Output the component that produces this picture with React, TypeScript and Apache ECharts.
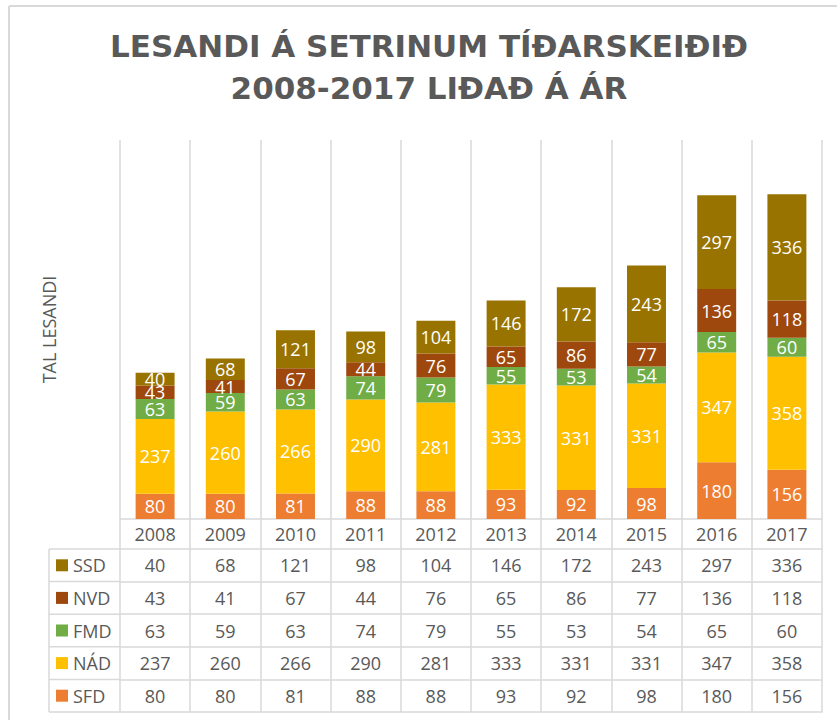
import React, { useEffect, useRef } from "react";
import * as echarts from "echarts";

const years = ["2008", "2009", "2010", "2011", "2012", "2013", "2014", "2015", "2016", "2017"];
const SFD = [80, 80, 81, 88, 88, 93, 92, 98, 180, 156];
const NAD = [237, 260, 266, 290, 281, 333, 331, 331, 347, 358];
const FMD = [63, 59, 63, 74, 79, 55, 53, 54, 65, 60];
const NVD = [43, 41, 67, 44, 76, 65, 86, 77, 136, 118];
const SSD = [40, 68, 121, 98, 104, 146, 172, 243, 297, 336];

const seriesNames = ["SFD", "NÁD", "FMD", "NVD", "SSD"];
const seriesData = [SFD, NAD, FMD, NVD, SSD];
const seriesColors = ["#ED7D31", "#FFC000", "#70AD47", "#9E480E", "#997300"];
// table rows, top to bottom
const tableOrder = [4, 3, 2, 1, 0];

const TITLE = "LESANDI Á SETRINUM TÍÐARSKEIÐIÐ\n2008-2017 LIÐAÐ Á ÁR";
const Y_NAME = "TAL LESANDI";

export default function App() {
  const ref = useRef<HTMLDivElement>(null);
  useEffect(() => {
    if (!ref.current) return;
    const chart = echarts.init(ref.current, null, { renderer: "svg" });
    const W = 837, H = 720;
    const gridLeft = 120, gridRight = 15, gridTop = 140, gridBottom = 201;
    const headerH = 30, rowH = 32.6;
    const baseY = H - gridBottom;
    const lineCol = "#D9D9D9";
    const txtCol = "#595959";
    const lw = 1.5;
    const font = "Open Sans";

    const rowAxes: any[] = tableOrder.map((si, k) => ({
      type: "category",
      gridIndex: 0,
      position: "bottom",
      offset: headerH + k * rowH,
      data: years,
      axisLine: { show: true, lineStyle: { color: lineCol, width: lw } },
      axisTick: { show: true, length: rowH, lineStyle: { color: lineCol, width: lw } },
      axisLabel: {
        show: true,
        interval: 0,
        margin: rowH / 2,
        verticalAlign: "middle",
        color: txtCol,
        fontSize: 18,
        fontFamily: font,
        formatter: (_v: string, idx: number) => String(seriesData[si][idx]),
      },
      splitLine: { show: false },
    }));

    const closeAxis = {
      type: "category",
      gridIndex: 0,
      position: "bottom",
      offset: headerH + 5 * rowH,
      data: years,
      axisLine: { show: true, lineStyle: { color: lineCol, width: lw } },
      axisTick: { show: false },
      axisLabel: { show: false },
      splitLine: { show: false },
    };

    const graphics: any[] = [];
    // outer frame (top & left)
    graphics.push({ type: "line", shape: { x1: 9, y1: 6, x2: W, y2: 6 }, style: { stroke: lineCol, lineWidth: 2 }, silent: true });
    graphics.push({ type: "line", shape: { x1: 9, y1: 6, x2: 9, y2: H }, style: { stroke: lineCol, lineWidth: 2 }, silent: true });
    // legend column of table
    const colLeft = 49;
    for (let k = 0; k <= 5; k++) {
      const y = baseY + headerH + k * rowH;
      graphics.push({ type: "line", shape: { x1: colLeft, y1: y, x2: gridLeft, y2: y }, style: { stroke: lineCol, lineWidth: lw }, silent: true });
    }
    graphics.push({
      type: "line",
      shape: { x1: colLeft, y1: baseY + headerH, x2: colLeft, y2: baseY + headerH + 5 * rowH },
      style: { stroke: lineCol, lineWidth: lw },
      silent: true,
    });

    chart.setOption({
      animation: false,
      backgroundColor: "#FFFFFF",
      title: {
        text: TITLE,
        left: 429,
        top: 25,
        textAlign: "center",
        padding: 0,
        textStyle: {
          fontFamily: "DejaVu Sans",
          fontWeight: "bold",
          fontSize: 31,
          lineHeight: 42,
          color: txtCol,
        },
      },
      legend: {
        orient: "vertical",
        left: 56,
        top: baseY + headerH + rowH / 2 - 9,
        padding: 0,
        itemWidth: 12,
        itemHeight: 12,
        itemGap: rowH - 18,
        icon: "rect",
        data: tableOrder.map((i) => seriesNames[i]),
        textStyle: { fontSize: 18, lineHeight: 18, color: txtCol, fontFamily: font, padding: [0, 0, 0, 0] },
      },
      grid: { left: gridLeft, right: gridRight, top: gridTop, bottom: gridBottom },
      xAxis: [
        {
          type: "category",
          gridIndex: 0,
          position: "bottom",
          data: years,
          axisLine: { show: true, lineStyle: { color: lineCol, width: lw } },
          axisTick: { show: true, length: headerH, lineStyle: { color: lineCol, width: lw } },
          axisLabel: {
            interval: 0,
            margin: headerH / 2,
            verticalAlign: "middle",
            color: txtCol,
            fontSize: 18,
            fontFamily: font,
          },
          splitLine: { show: true, lineStyle: { color: lineCol, width: lw } },
        },
        ...rowAxes,
        closeAxis,
      ],
      yAxis: {
        type: "value",
        min: 0,
        max: 1200,
        axisLine: { show: false },
        axisTick: { show: false },
        axisLabel: { show: false },
        splitLine: { show: false },
        name: Y_NAME,
        nameLocation: "middle",
        nameRotate: 90,
        nameGap: 62,
        nameTextStyle: { fontSize: 18, color: txtCol, fontFamily: font },
      },
      series: seriesNames.map((name, i) => ({
        name,
        type: "bar",
        stack: "total",
        xAxisIndex: 0,
        yAxisIndex: 0,
        barWidth: "55.5%",
        data: seriesData[i],
        itemStyle: { color: seriesColors[i] },
        label: {
          show: true,
          position: "inside",
          color: "#FFFFFF",
          fontSize: 18,
          fontFamily: font,
        },
      })),
      graphic: graphics,
    });
    return () => chart.dispose();
  }, []);
  return (
    <div
      ref={ref}
      style={{ position: "fixed", left: 0, top: 0, width: 837, height: 720 }}
    />
  );
}
